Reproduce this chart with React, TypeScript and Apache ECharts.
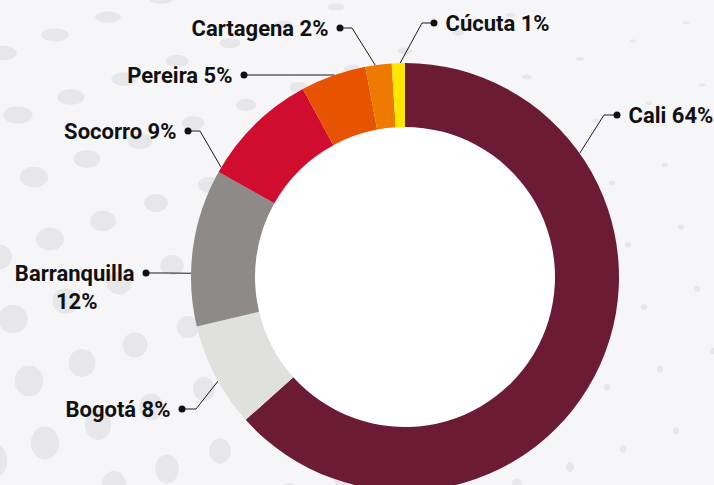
import React, { useEffect, useRef } from "react";
import * as echarts from "echarts";

// ---- data ----
const categories = ["Cali", "Bogotá", "Barranquilla", "Socorro", "Pereira", "Cartagena", "Cúcuta"];
const values = [64, 8, 12, 9, 5, 2, 1];
const sliceColors = ["#6b1b33", "#e0e0df", "#8e8a87", "#d00c2f", "#e75300", "#ef7a00", "#ffe600"];

// ---- layout ----
const CX = 405;
const CY = 277;
const R_IN = 150;
const R_OUT = 214;

type LabelLayout = {
  side: "left" | "right";
  dot: [number, number];
  elbow: [number, number] | null;
  angle: number; // where the leader line leaves the ring, degrees clockwise from 12 o'clock
  twoLine?: boolean;
};

const labelLayouts: LabelLayout[] = [
  { side: "right", dot: [617, 115], elbow: [604, 115], angle: 54.7 },
  { side: "left", dot: [182, 409], elbow: [196, 409], angle: 240.9 },
  { side: "left", dot: [146, 273], elbow: null, angle: 271, twoLine: true },
  { side: "left", dot: [188, 131], elbow: [200, 131], angle: 300.8 },
  { side: "left", dot: [244, 75], elbow: null, angle: 340.7 },
  { side: "left", dot: [340, 28], elbow: [352, 28], angle: 352 },
  { side: "right", dot: [434, 23], elbow: [422, 23], angle: 358.7 },
];

const DOT = 7;
const LINE_H = 28;

function edgePoint(angleDeg: number): [number, number] {
  const a = (angleDeg * Math.PI) / 180;
  return [CX + R_OUT * Math.sin(a), CY - R_OUT * Math.cos(a)];
}

function backgroundDots() {
  const els: any[] = [];
  for (let i = -8; i <= 18; i++) {
    for (let j = -9; j <= 5; j++) {
      const x = 82 + 53 * i + 16 * j;
      const y = 363 - 18 * i + 62 * j;
      if (x < -25 || x > 740 || y < -25 || y > 510) continue;
      const f = Math.max(0.22, 1 - x / 780);
      const rx = 15 * f;
      const ry = rx * (0.4 + 0.85 * Math.max(0, y) / 485);
      els.push({
        type: "ellipse",
        shape: { cx: x, cy: y, rx, ry },
        style: { fill: "#e7e7e9" },
        silent: true,
        z: 0,
      });
    }
  }
  return els;
}

export default function App() {
  const ref = useRef<HTMLDivElement>(null);

  useEffect(() => {
    if (!ref.current) return;
    const chart = echarts.init(ref.current, undefined, { renderer: "svg" });

    const data = categories.map((name, i) => ({
      name,
      value: values[i],
      itemStyle: { color: sliceColors[i] },
    }));

    const option: any = {
      animation: false,
      backgroundColor: "#f6f6f8",
      graphic: { elements: backgroundDots() },
      series: [
        {
          type: "pie",
          radius: [0, R_IN],
          center: [CX, CY],
          silent: true,
          z: 3,
          label: { show: false },
          labelLine: { show: false },
          data: [{ value: 1, name: "hole", itemStyle: { color: "#ffffff" } }],
        },
        {
          type: "pie",
          radius: [R_IN, R_OUT],
          center: [CX, CY],
          startAngle: 90,
          clockwise: true,
          avoidLabelOverlap: false,
          z: 4,
          emphasis: { disabled: true },
          data,
          label: {
            show: true,
            position: "outside",
            formatter: (p: any) => {
              const L = labelLayouts[p.dataIndex];
              if (L.twoLine) {
                return `{t|${p.name}}{g| }{d| }\n{t|${p.value}%}{s| }`;
              }
              const txt = `${p.name} ${p.value}%`;
              return L.side === "right" ? `{d| }{g| }{t|${txt}}` : `{t|${txt}}{g| }{d| }`;
            },
            rich: {
              t: {
                fontFamily: "Roboto",
                fontWeight: "bold",
                fontSize: 22,
                color: "#111111",
                lineHeight: LINE_H,
              },
              d: {
                width: DOT,
                height: DOT,
                backgroundColor: "#111111",
                borderRadius: DOT / 2,
                fontSize: 4,
                lineHeight: LINE_H,
              },
              g: { width: 8, fontSize: 4, lineHeight: LINE_H },
              s: { width: 52, fontSize: 4, lineHeight: LINE_H },
            },
          },
          labelLine: {
            show: true,
            lineStyle: { color: "#1a1a1a", width: 1 },
          },
          labelLayout: (p: any) => {
            const L = labelLayouts[p.dataIndex];
            const start = edgePoint(L.angle);
            const pts: number[][] = [start];
            if (L.elbow) pts.push(L.elbow);
            else pts.push([(start[0] + L.dot[0]) / 2, L.dot[1]]);
            pts.push(L.dot);
            const x = L.side === "right" ? L.dot[0] - DOT / 2 : L.dot[0] + DOT / 2;
            return {
              x,
              y: L.twoLine ? L.dot[1] - LINE_H / 2 : L.dot[1],
              align: L.side === "right" ? "left" : "right",
              verticalAlign: L.twoLine ? "top" : "middle",
              labelLinePoints: pts,
            };
          },
        },
      ],
    };

    chart.setOption(option);
    return () => chart.dispose();
  }, []);

  return (
    <div
      ref={ref}
      style={{ position: "fixed", left: 0, top: 0, width: 714, height: 485 }}
    />
  );
}
